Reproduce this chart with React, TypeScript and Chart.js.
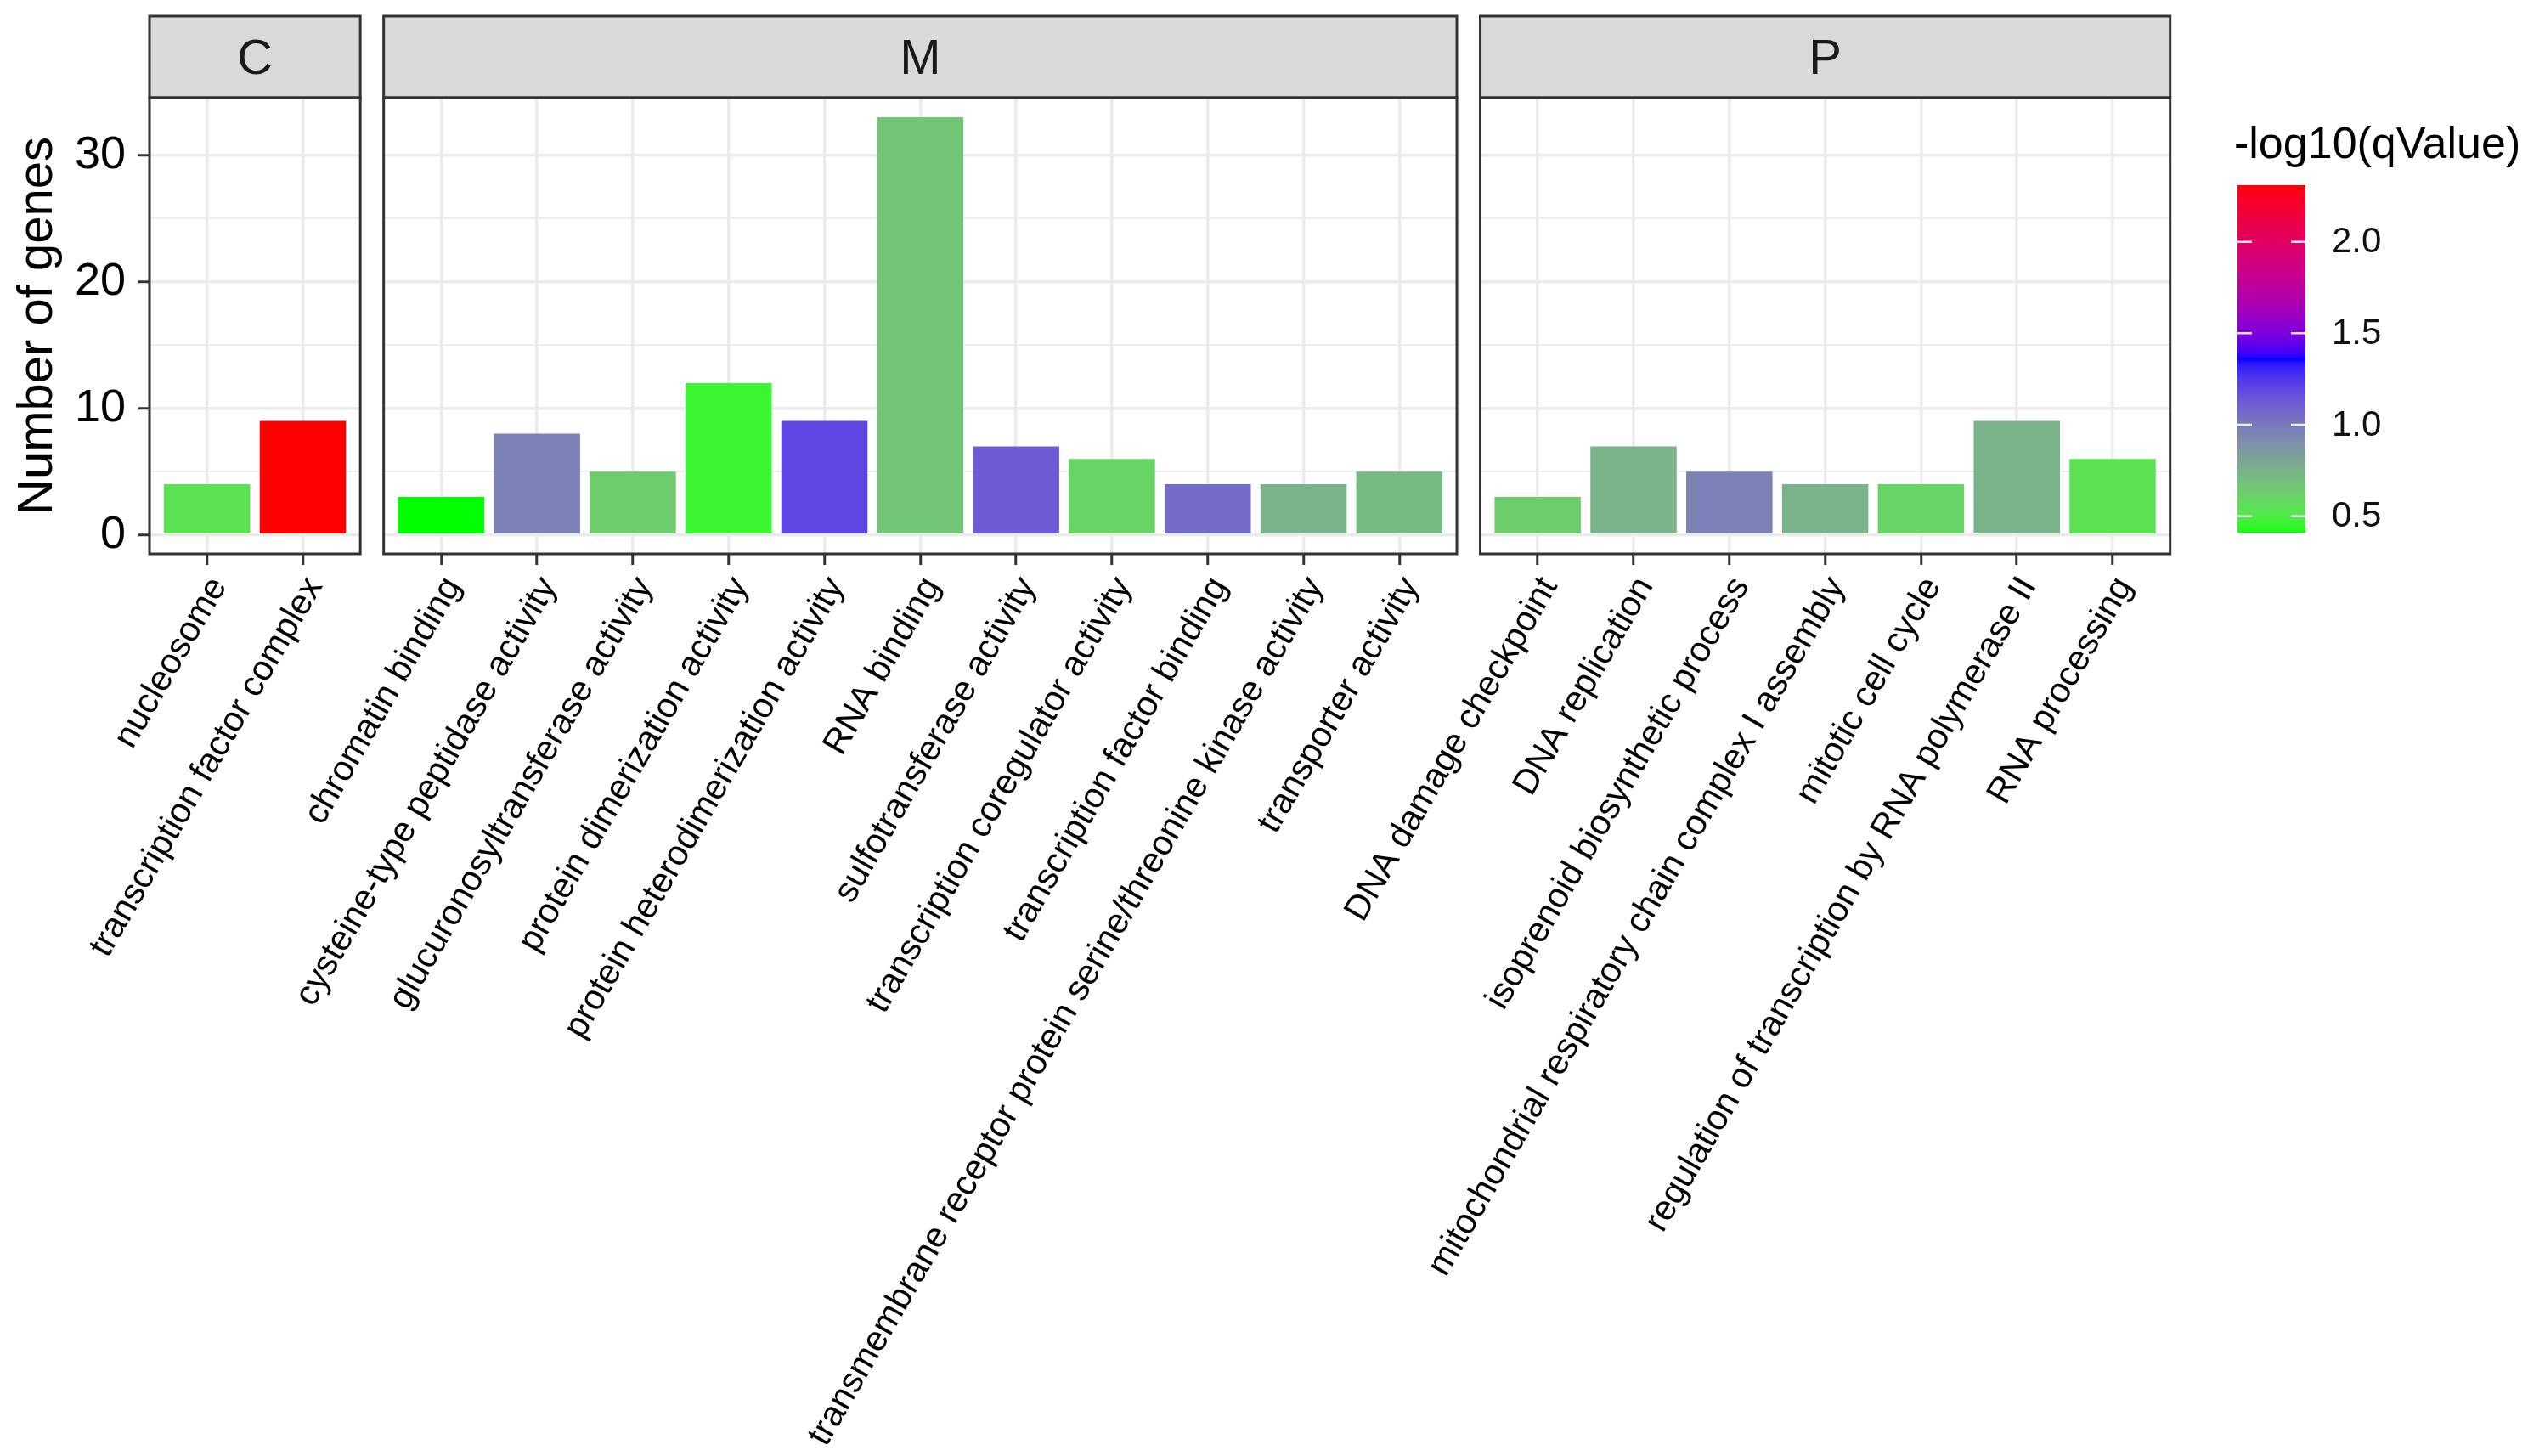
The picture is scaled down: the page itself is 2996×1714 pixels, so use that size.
import React, { useEffect, useRef } from "react";
import { Chart, registerables } from "chart.js";

Chart.register(...registerables);

// ---------------- data ----------------
const panelNames = ["C", "M", "P"];

const cCategories = ["nucleosome", "transcription factor complex"];
const cGenes = [4, 9];
const cLogQ = [0.54, 2.31];

const mCategories = [
  "chromatin binding",
  "cysteine-type peptidase activity",
  "glucuronosyltransferase activity",
  "protein dimerization activity",
  "protein heterodimerization activity",
  "RNA binding",
  "sulfotransferase activity",
  "transcription coregulator activity",
  "transcription factor binding",
  "transmembrane receptor protein serine/threonine kinase activity",
  "transporter activity",
];
const mGenes = [3, 8, 5, 12, 9, 33, 7, 6, 4, 4, 5];
const mLogQ = [0.41, 0.96, 0.63, 0.46, 1.2, 0.67, 1.12, 0.6, 1.06, 0.75, 0.72];

const pCategories = [
  "DNA damage checkpoint",
  "DNA replication",
  "isoprenoid biosynthetic process",
  "mitochondrial respiratory chain complex I assembly",
  "mitotic cell cycle",
  "regulation of transcription by RNA polymerase II",
  "RNA processing",
];
const pGenes = [3, 7, 5, 4, 4, 9, 6];
const pLogQ = [0.63, 0.75, 0.96, 0.75, 0.6, 0.75, 0.54];

const yGridValues = [0, 5, 10, 15, 20, 25, 30];
const legendTicks = [0.5, 1.0, 1.5, 2.0];
const rampColors = ["#00FF00", "#0000FF", "#FF0000"];

const yTitle = "Number of genes";
const legendTitle = "-log10(qValue)";

// ---------------- layout ----------------
const W = 2996;
const H = 1714;
const STRIP_TOP = 19;
const PLOT_TOP = 115;
const PLOT_BOTTOM = 652;
const UNIT = 112.8;
const GAP = 27.5;
const FIRST_LEFT = 176;
const FONT = "'Liberation Sans', Arial, Helvetica, sans-serif";

// ---------------- colour ramp (CIELAB like ggplot) ----------------
function hexToRgb(h: string) {
  const n = parseInt(h.slice(1), 16);
  return [(n >> 16) & 255, (n >> 8) & 255, n & 255];
}
function toLin(c: number) {
  c /= 255;
  return c <= 0.04045 ? c / 12.92 : Math.pow((c + 0.055) / 1.055, 2.4);
}
function fromLin(c: number) {
  const v = c <= 0.0031308 ? 12.92 * c : 1.055 * Math.pow(c, 1 / 2.4) - 0.055;
  return Math.round(Math.max(0, Math.min(1, v)) * 255);
}
const XN = 0.95047, YN = 1.0, ZN = 1.08883;
function f(t: number) {
  return t > 0.008856 ? Math.cbrt(t) : 7.787 * t + 16 / 116;
}
function finv(t: number) {
  return t * t * t > 0.008856 ? t * t * t : (t - 16 / 116) / 7.787;
}
function rgbToLab(rgb: number[]) {
  const [r, g, b] = rgb.map(toLin);
  const x = 0.4124 * r + 0.3576 * g + 0.1805 * b;
  const y = 0.2126 * r + 0.7152 * g + 0.0722 * b;
  const z = 0.0193 * r + 0.1192 * g + 0.9505 * b;
  const fx = f(x / XN), fy = f(y / YN), fz = f(z / ZN);
  return [116 * fy - 16, 500 * (fx - fy), 200 * (fy - fz)];
}
function labToRgb(lab: number[]) {
  const [L, a, bb] = lab;
  const fy = (L + 16) / 116;
  const fx = fy + a / 500;
  const fz = fy - bb / 200;
  const x = XN * finv(fx), y = YN * finv(fy), z = ZN * finv(fz);
  const r = 3.2406 * x - 1.5372 * y - 0.4986 * z;
  const g = -0.9689 * x + 1.8758 * y + 0.0415 * z;
  const b = 0.0557 * x - 0.204 * y + 1.057 * z;
  return [fromLin(r), fromLin(g), fromLin(b)];
}
const rampLab = rampColors.map((c) => rgbToLab(hexToRgb(c)));
const allLogQ = [...cLogQ, ...mLogQ, ...pLogQ];
const QMIN = Math.min(...allLogQ);
const QMAX = Math.max(...allLogQ);
function colorFor(v: number) {
  let t = (v - QMIN) / (QMAX - QMIN);
  t = Math.max(0, Math.min(1, t));
  const segs = rampLab.length - 1;
  const s = Math.min(segs - 1, Math.floor(t * segs));
  const lt = t * segs - s;
  const a = rampLab[s], b = rampLab[s + 1];
  const lab = [0, 1, 2].map((i) => a[i] + (b[i] - a[i]) * lt);
  const [r, g, bl] = labToRgb(lab);
  return `rgb(${r},${g},${bl})`;
}

// ---------------- panels ----------------
const panels = [
  { name: panelNames[0], cats: cCategories, genes: cGenes, q: cLogQ },
  { name: panelNames[1], cats: mCategories, genes: mGenes, q: mLogQ },
  { name: panelNames[2], cats: pCategories, genes: pGenes, q: pLogQ },
];
const panelBounds: { left: number; right: number }[] = [];
{
  let x = FIRST_LEFT;
  panels.forEach((p) => {
    const w = (p.cats.length + 0.2) * UNIT;
    panelBounds.push({ left: x, right: x + w });
    x += w + GAP;
  });
}

function makeStripPlugin(name: string, withLegend: boolean) {
  return {
    id: "strip_" + name,
    afterDraw(chart: any) {
      const { ctx, chartArea } = chart;
      const { left, right, top, bottom } = chartArea;
      ctx.save();
      // strip
      ctx.fillStyle = "#D9D9D9";
      ctx.fillRect(left, STRIP_TOP, right - left, top - STRIP_TOP);
      ctx.strokeStyle = "#333333";
      ctx.lineWidth = 3;
      ctx.strokeRect(left, STRIP_TOP, right - left, top - STRIP_TOP);
      ctx.fillStyle = "#1A1A1A";
      ctx.font = `58px ${FONT}`;
      ctx.textAlign = "center";
      ctx.textBaseline = "middle";
      ctx.fillText(name, (left + right) / 2, (STRIP_TOP + top) / 2 + 4);
      // panel border
      ctx.strokeStyle = "#333333";
      ctx.lineWidth = 3;
      ctx.strokeRect(left, top, right - left, bottom - top);

      if (withLegend) {
        const bx0 = 2634, bx1 = 2714, by0 = 218, by1 = 627;
        ctx.fillStyle = "#000";
        ctx.font = `52px ${FONT}`;
        ctx.textAlign = "left";
        ctx.textBaseline = "middle";
        ctx.fillText(legendTitle, 2630, 172);
        for (let y = by0; y < by1; y++) {
          const v = QMAX - ((y + 0.5 - by0) / (by1 - by0)) * (QMAX - QMIN);
          ctx.fillStyle = colorFor(v);
          ctx.fillRect(bx0, y, bx1 - bx0, 1.2);
        }
        const yOf = (v: number) => by1 - ((v - QMIN) / (QMAX - QMIN)) * (by1 - by0);
        ctx.strokeStyle = "rgba(255,255,255,0.9)";
        ctx.lineWidth = 2.5;
        ctx.font = `42px ${FONT}`;
        legendTicks.forEach((v) => {
          const y = yOf(v);
          ctx.beginPath();
          ctx.moveTo(bx0, y);
          ctx.lineTo(bx0 + 17, y);
          ctx.moveTo(bx1 - 17, y);
          ctx.lineTo(bx1, y);
          ctx.stroke();
          ctx.fillStyle = "#111";
          ctx.fillText(v.toFixed(1), 2745, y + 1);
        });
      }
      ctx.restore();
    },
  };
}

function buildConfig(idx: number): any {
  const p = panels[idx];
  const b = panelBounds[idx];
  const first = idx === 0;
  const n = p.cats.length;
  const leftPad = first ? 6 : b.left;
  return {
    type: "bar",
    data: {
      datasets: [
        {
          data: p.genes.map((g, j) => ({ x: j, y: g })),
          backgroundColor: p.q.map(colorFor),
          borderWidth: 0,
          barPercentage: 0.9,
          categoryPercentage: 1,
        },
      ],
    },
    options: {
      responsive: false,
      animation: false,
      events: [],
      layout: {
        padding: { left: leftPad, right: W - b.right, top: PLOT_TOP, bottom: 0 },
      },
      plugins: { legend: { display: false }, tooltip: { enabled: false } },
      scales: {
        x: {
          type: "linear",
          min: -0.6,
          max: n - 0.4,
          offset: false,
          afterBuildTicks: (s: any) => {
            s.ticks = p.cats.map((_, j) => ({ value: j }));
          },
          afterFit: (s: any) => {
            s.height = H - PLOT_BOTTOM;
          },
          border: { display: false },
          grid: {
            offset: false,
            color: "#EBEBEB",
            lineWidth: 3.5,
            tickColor: "#333333",
            tickWidth: 3,
            tickLength: 13,
            drawTicks: true,
          },
          ticks: {
            autoSkip: false,
            minRotation: 60,
            maxRotation: 60,
            padding: 6,
            labelOffset: 14,
            color: "#000",
            font: { family: FONT, size: 41.5 },
            callback: (_v: any, j: number) => p.cats[j],
          },
        },
        y: {
          min: -1.5,
          max: 34.55,
          afterBuildTicks: (s: any) => {
            s.ticks = yGridValues.map((v) => ({ value: v }));
          },
          afterFit: (s: any) => {
            s.width = first ? FIRST_LEFT - leftPad : 0;
          },
          border: { display: false },
          grid: {
            color: "#EBEBEB",
            lineWidth: (c: any) => (c.tick && c.tick.value % 10 === 0 ? 3.5 : 1.8),
            tickColor: (c: any) =>
              c.tick && c.tick.value % 10 === 0 ? "#333333" : "rgba(0,0,0,0)",
            tickWidth: 3,
            tickLength: 13,
            drawTicks: first,
          },
          ticks: {
            display: first,
            padding: 15,
            color: "#000",
            font: { family: FONT, size: 54 },
            callback: (v: number) => (v % 10 === 0 ? String(v) : ""),
          },
          title: {
            display: first,
            text: yTitle,
            color: "#000",
            font: { family: FONT, size: 58 },
            padding: { top: 4, bottom: 0 },
          },
        },
      },
    },
    plugins: [makeStripPlugin(p.name, idx === panels.length - 1)],
  };
}

export default function App() {
  const r0 = useRef<HTMLCanvasElement>(null);
  const r1 = useRef<HTMLCanvasElement>(null);
  const r2 = useRef<HTMLCanvasElement>(null);

  useEffect(() => {
    const refs = [r0, r1, r2];
    const charts = refs.map((r, i) => new Chart(r.current as HTMLCanvasElement, buildConfig(i)));
    return () => charts.forEach((c) => c.destroy());
  }, []);

  const cs: React.CSSProperties = { position: "absolute", left: 0, top: 0, width: W, height: H };
  return (
    <div style={{ position: "absolute", left: 0, top: 0, width: W, height: H, background: "#fff", overflow: "hidden" }}>
      <canvas ref={r0} width={W} height={H} style={cs} />
      <canvas ref={r1} width={W} height={H} style={cs} />
      <canvas ref={r2} width={W} height={H} style={cs} />
    </div>
  );
}
